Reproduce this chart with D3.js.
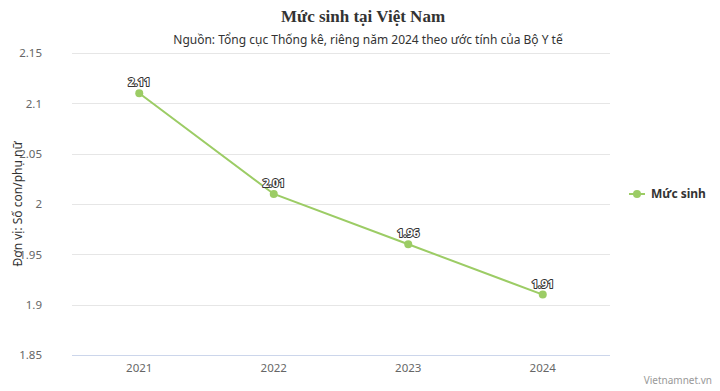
<!DOCTYPE html>
<html>
<head>
<meta charset="utf-8">
<script src="https://cdn.jsdelivr.net/npm/d3@7"></script>
<style>
  html, body { margin: 0; padding: 0; background: #fff; }
  svg { display: block; }
  .tick text { font-family: "Noto Sans", sans-serif; }
</style>
</head>
<body>
<svg width="720" height="391"></svg>
<script>
"use strict";
// chart data
const years = ["2021", "2022", "2023", "2024"];
const values = [2.11, 2.01, 1.96, 1.91];
const yTicks = [1.85, 1.9, 1.95, 2, 2.05, 2.1, 2.15];
const seriesName = "Mức sinh";
const lineColor = "#9ccc65";

const svg = d3.select("svg");

// plot area
const plotLeft = 72, plotRight = 610, plotTop = 53, plotBottom = 355;

const x = d3.scaleBand().domain(years).range([plotLeft, plotRight]);
const y = d3.scaleLinear().domain([1.85, 2.15]).range([plotBottom, plotTop]);

// title + subtitle
svg.append("text")
  .attr("x", 363).attr("y", 22)
  .attr("text-anchor", "middle")
  .style("font-family", "'Liberation Serif', serif")
  .style("font-weight", "bold")
  .style("font-size", "17px")
  .style("fill", "#333")
  .text("Mức sinh tại Việt Nam");

svg.append("text")
  .attr("x", 368).attr("y", 44)
  .attr("text-anchor", "middle")
  .style("font-family", "'Noto Sans', sans-serif")
  .style("font-size", "12px")
  .style("fill", "#333")
  .text("Nguồn: Tổng cục Thống kê, riêng năm 2024 theo ước tính của Bộ Y tế");

// gridlines
svg.append("g").selectAll("line")
  .data(yTicks)
  .join("line")
  .attr("x1", plotLeft).attr("x2", plotRight)
  .attr("y1", d => Math.round(y(d)) + 0.5)
  .attr("y2", d => Math.round(y(d)) + 0.5)
  .attr("stroke", d => d === 1.85 ? "#ccd6eb" : "#e6e6e6")
  .attr("stroke-width", 1);

// y axis labels
const yAxis = svg.append("g")
  .attr("transform", "translate(" + (plotLeft - 30) + ",0)")
  .call(d3.axisLeft(y).tickValues(yTicks).tickSize(0).tickPadding(0).tickFormat(d3.format("")));
yAxis.select(".domain").remove();
yAxis.selectAll("text")
  .style("font-size", "11.5px")
  .style("fill", "#666");

// x axis labels
const xAxis = svg.append("g")
  .attr("transform", "translate(0," + plotBottom + ")")
  .call(d3.axisBottom(x).tickSize(0).tickPadding(9));
xAxis.select(".domain").remove();
xAxis.selectAll("text")
  .style("font-size", "11.5px")
  .style("fill", "#666");

// y axis title
svg.append("text")
  .attr("transform", "translate(22," + ((plotTop + plotBottom) / 2) + ") rotate(-90)")
  .attr("text-anchor", "middle")
  .style("font-family", "'Noto Sans', sans-serif")
  .style("font-size", "12px")
  .style("fill", "#333")
  .text("Đơn vị: Số con/phụ nữ");

// line
const cx = d => x(d) + x.bandwidth() / 2;
const line = d3.line()
  .x((d, i) => cx(years[i]))
  .y(d => y(d));

svg.append("path")
  .datum(values)
  .attr("d", line)
  .attr("fill", "none")
  .attr("stroke", lineColor)
  .attr("stroke-width", 2);

svg.append("g").selectAll("circle")
  .data(values)
  .join("circle")
  .attr("cx", (d, i) => cx(years[i]))
  .attr("cy", d => y(d))
  .attr("r", 4)
  .attr("fill", lineColor);

// data labels
svg.append("g").selectAll("text")
  .data(values)
  .join("text")
  .attr("x", (d, i) => cx(years[i]))
  .attr("y", d => y(d) - 7)
  .attr("text-anchor", "middle")
  .style("font-family", "'Noto Sans', sans-serif")
  .style("font-size", "11px")
  .style("font-weight", "bold")
  .style("fill", "#fff")
  .style("stroke", "#333")
  .style("stroke-width", "2px")
  .style("paint-order", "stroke")
  .style("stroke-linejoin", "round")
  .text(d => d);

// legend
const lg = svg.append("g").attr("transform", "translate(629,194)");
lg.append("line")
  .attr("x1", 0).attr("x2", 16)
  .attr("stroke", lineColor).attr("stroke-width", 2);
lg.append("circle").attr("cx", 8).attr("r", 4).attr("fill", lineColor);
lg.append("text")
  .attr("x", 22).attr("y", 4)
  .style("font-family", "'Noto Sans', sans-serif")
  .style("font-size", "12px")
  .style("font-weight", "bold")
  .style("fill", "#333")
  .text(seriesName);

// credit
svg.append("text")
  .attr("x", 712).attr("y", 384)
  .attr("text-anchor", "end")
  .style("font-family", "'Noto Sans', sans-serif")
  .style("font-size", "10px")
  .style("fill", "#999")
  .text("Vietnamnet.vn");
</script>
</body>
</html>
